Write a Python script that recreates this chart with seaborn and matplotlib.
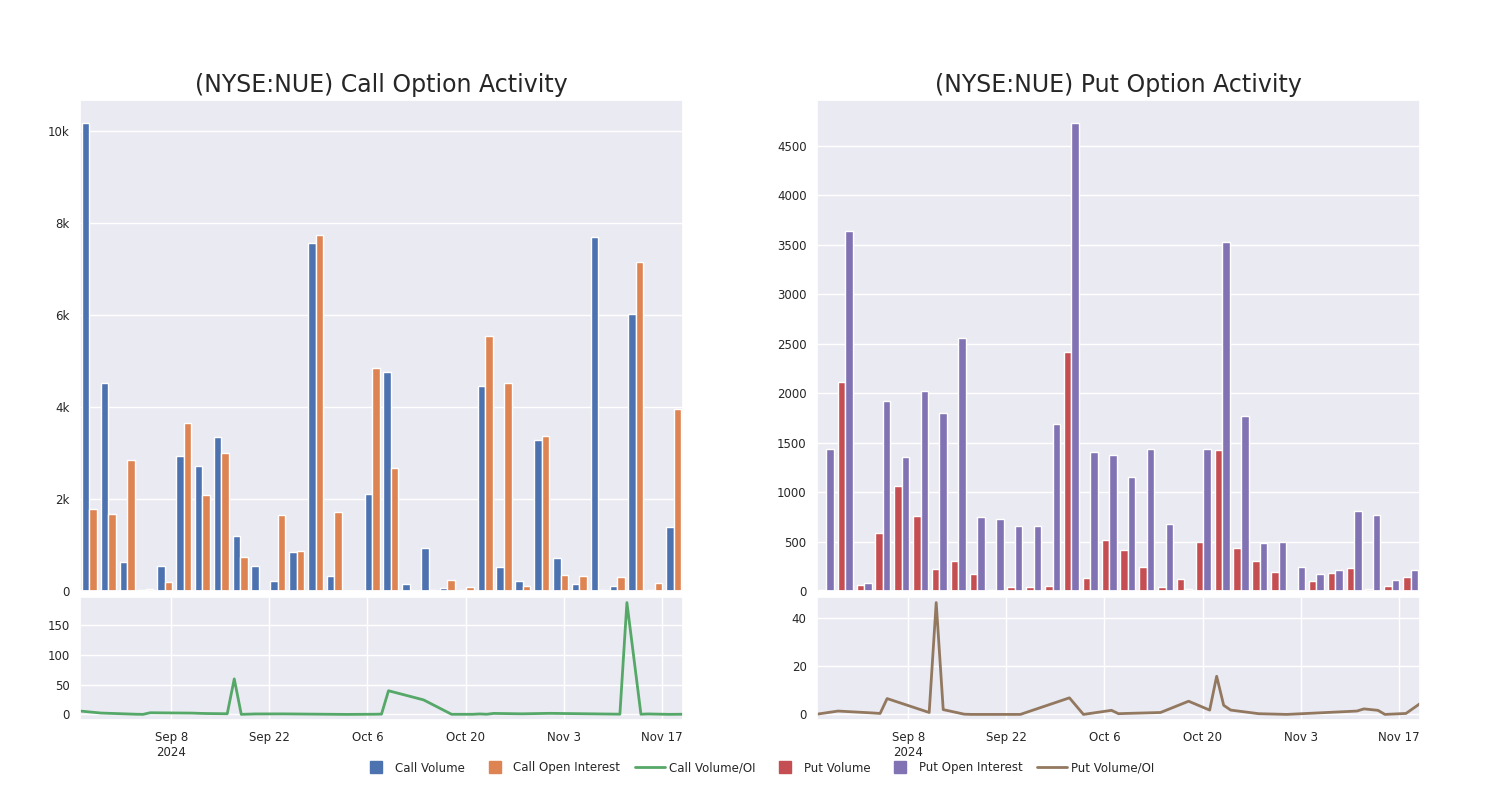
import matplotlib
matplotlib.use("Agg")
import matplotlib.pyplot as plt
from matplotlib.lines import Line2D
from matplotlib.ticker import FuncFormatter
import pandas as pd
import seaborn as sns

sns.set_theme(style="darkgrid")
plt.rcParams["font.family"] = ["DejaVu Sans"]

# ---------------- data ----------------
dates = [
    "2024-08-26", "2024-08-29", "2024-09-03", "2024-09-04", "2024-09-05",
    "2024-09-11", "2024-09-12", "2024-09-13", "2024-09-16", "2024-09-17",
    "2024-09-18", "2024-09-20", "2024-09-24", "2024-10-01", "2024-10-03",
    "2024-10-07", "2024-10-08", "2024-10-09", "2024-10-14", "2024-10-18",
    "2024-10-21", "2024-10-22", "2024-10-23", "2024-10-24", "2024-10-28",
    "2024-11-01", "2024-11-11", "2024-11-12", "2024-11-14", "2024-11-15",
    "2024-11-18", "2024-11-20",
]

call_volume = [10175, 4531, 640, 22, 553, 2938, 2727, 3360, 1193, 538,
               211, 844, 7571, 320, 0, 2109, 4764, 145, 938, 73,
               15, 4466, 524, 225, 3295, 727, 160, 7709, 102, 6029,
               22, 1382]
call_open_interest = [1782, 1680, 2851, 44, 196, 3651, 2095, 3004, 735, 7,
                      1644, 865, 7753, 1724, 5, 4851, 2669, 0, 29, 247,
                      80, 5556, 4516, 116, 3375, 356, 327, 29, 305, 7156,
                      175, 3956]
call_vol_oi = [5.7, 2.3, 0.3, 0.1, 2.8, 2.2, 1.8, 1.5, 1.1, 59.7,
               0.1, 0.8, 0.9, 0.2, 0.0, 0.3, 0.5, 39.8, 24.4, 0.2,
               0.2, 0.8, 0.3, 1.7, 1.0, 1.8, 0.4, 188.0, 0.3, 0.8,
               0.1, 0.3]

put_volume = [13, 2111, 64, 584, 1057, 763, 226, 307, 176, 13,
              44, 44, 51, 2415, 128, 513, 419, 247, 37, 122,
              497, 1429, 432, 307, 196, 0, 98, 179, 230, 20,
              47, 139]
put_open_interest = [1436, 3638, 84, 1919, 1358, 2020, 1797, 2557, 750, 726,
                     659, 659, 1689, 4726, 1409, 1378, 1155, 1436, 676, 17,
                     1432, 3530, 1773, 483, 493, 243, 176, 209, 804, 767,
                     115, 209]
put_vol_oi = [0.1, 1.4, 0.6, 0.4, 6.6, 0.8, 46.6, 2.0, 0.1, 0.0,
              0.0, 0.0, 0.0, 6.9, 0.0, 1.7, 0.3, 0.4, 0.8, 5.5,
              1.8, 15.9, 3.8, 1.8, 0.3, 0.0, 1.4, 2.3, 1.7, 0.0,
              0.4, 4.5]

tick_dates = ["2024-09-08", "2024-09-22", "2024-10-06", "2024-10-20",
              "2024-11-03", "2024-11-17"]
tick_labels = ["Sep 8\n2024", "Sep 22", "Oct 6", "Oct 20", "Nov 3", "Nov 17"]

call_yticks = [0, 2000, 4000, 6000, 8000, 10000]
put_yticks = [0, 500, 1000, 1500, 2000, 2500, 3000, 3500, 4000, 4500]
call_ratio_yticks = [0, 50, 100, 150]
put_ratio_yticks = [0, 20, 40]

pal = sns.color_palette("deep")
C_BLUE, C_ORANGE, C_GREEN, C_RED, C_PURPLE, C_BROWN = pal[0], pal[1], pal[2], pal[3], pal[4], pal[5]

TICK_FS = 8.5

fig = plt.figure(figsize=(15, 8), dpi=100)


def panel(left, vol, oi, ratio, names, colors, line_color, title, yticks, yfmt, rticks):
    W = 603 / 1500
    ax_bar = fig.add_axes([left / 1500, 1 - 591 / 800, W, 491 / 800])
    ax_line = fig.add_axes([left / 1500, 1 - 720 / 800, W, 123 / 800])

    df = pd.DataFrame({
        "date": dates * 2,
        "series": [names[0]] * len(dates) + [names[1]] * len(dates),
        "value": list(vol) + list(oi),
    })
    sns.barplot(data=df, x="date", y="value", hue="series", order=dates,
                hue_order=names, palette=colors, saturation=1,
                ax=ax_bar, legend=False)
    ax_bar.set_xlabel("")
    ax_bar.set_ylabel("")
    ax_bar.set_xticks(range(0, len(dates), 5))
    ax_bar.set_xticklabels([])
    ax_bar.set_yticks(yticks)
    if yfmt is not None:
        ax_bar.yaxis.set_major_formatter(FuncFormatter(yfmt))
    ax_bar.tick_params(axis="y", labelsize=TICK_FS, pad=1.5)
    ax_bar.tick_params(axis="x", length=0)
    ax_bar.set_title(title, fontsize=17, pad=6)

    dt = pd.to_datetime(dates)
    sns.lineplot(x=dt, y=ratio, ax=ax_line, color=line_color, linewidth=2)
    ax_line.set_xlim(dt[0], dt[-1])
    ax_line.set_xticks(pd.to_datetime(tick_dates))
    ax_line.set_xticklabels(tick_labels)
    ax_line.set_yticks(rticks)
    ax_line.tick_params(axis="y", labelsize=TICK_FS, pad=1.5)
    ax_line.tick_params(axis="x", labelsize=TICK_FS, pad=2)
    ax_line.set_xlabel("")
    ax_line.set_ylabel("")


panel(80, call_volume, call_open_interest, call_vol_oi,
      ["Call Volume", "Call Open Interest"], [C_BLUE, C_ORANGE], C_GREEN,
      "(NYSE:NUE) Call Option Activity", call_yticks,
      lambda v, p: "0" if v == 0 else f"{int(v / 1000)}k", call_ratio_yticks)

panel(817, put_volume, put_open_interest, put_vol_oi,
      ["Put Volume", "Put Open Interest"], [C_RED, C_PURPLE], C_BROWN,
      "(NYSE:NUE) Put Option Activity", put_yticks, None, put_ratio_yticks)

handles = [
    Line2D([], [], marker="s", linestyle="None", color=C_BLUE, markersize=9),
    Line2D([], [], marker="s", linestyle="None", color=C_ORANGE, markersize=9),
    Line2D([], [], color=C_GREEN, linewidth=2),
    Line2D([], [], marker="s", linestyle="None", color=C_RED, markersize=9),
    Line2D([], [], marker="s", linestyle="None", color=C_PURPLE, markersize=9),
    Line2D([], [], color=C_BROWN, linewidth=2),
]
labels = ["Call Volume", "Call Open Interest", "Call Volume/OI",
          "Put Volume", "Put Open Interest", "Put Volume/OI"]
fig.legend(handles, labels, loc="center", bbox_to_anchor=(0.505, 1 - 768 / 800),
           ncol=6, frameon=False, fontsize=TICK_FS, handlelength=2.6,
           handletextpad=0.3, columnspacing=1.2)

fig.savefig("out.png", dpi=100)
